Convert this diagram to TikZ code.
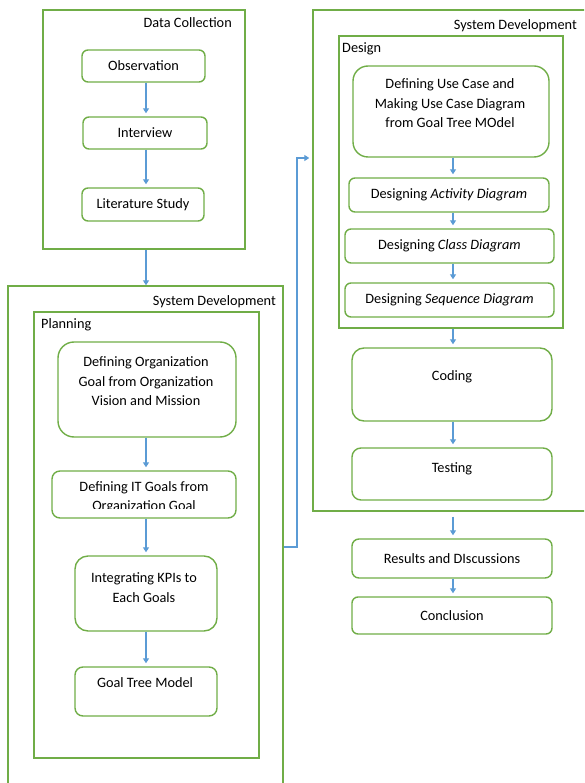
\documentclass[tikz,border=0pt]{standalone}
\usepackage{fontspec}
\setmainfont{Carlito}
\usetikzlibrary{arrows.meta, positioning, calc}
\definecolor{wordgreen}{HTML}{70AD47}
\definecolor{wordblue}{HTML}{5B9BD5}

\begin{document}
\begin{tikzpicture}[x=1pt, y=-1pt,
    every node/.style={font=\fontsize{14.3}{19.5}\selectfont, inner sep=0},
    frame/.style={draw=wordgreen, line width=1.4pt},
    box/.style={draw=wordgreen, line width=1.4pt, rounded corners=6},
    txt/.style={align=center},
    flow/.style={draw=wordblue, line width=1.3pt, -{Triangle[width=6pt,length=5pt]}, shorten >=3pt}]
    \useasboundingbox (0,0) rectangle (584,783);
    \clip (0,0) rectangle (584,783);

    % Data collection
    \node[frame, minimum width=202, minimum height=239] (dc) at (144,129.5) {};
    \node[anchor=east] (dc-l) at (232,23) {Data Collection};
    \node[box, minimum width=123, minimum height=32] (obs) at (143.5,66) {Observation};
    \node[box, minimum width=124, minimum height=32] (intv) at (145,133) {Interview};
    \node[box, minimum width=122, minimum height=33] (lit) at (143,204.5) {Literature Study};

    % System development (planning)
    \node[frame, minimum width=275, minimum height=514] (lsys) at (145.5,543) {};
    \node[anchor=east] (lsys-l) at (276,302) {System Development};
    \node[frame, minimum width=225, minimum height=446] (plan) at (146.5,535) {};
    \node[anchor=west] (plan-l) at (41,325) {Planning};
    \node[box, rounded corners=16, minimum width=178, minimum height=95] (org) at (147,389.5) {};
    \node[txt] (org-t) at (146,381.5) {Defining Organization\\Goal from Organization\\Vision and Mission};
    \node[box, rounded corners=8, minimum width=184, minimum height=47] (itg) at (144,494.5) {};
    \begin{scope}
        \clip (52,471) rectangle (236,508);
        \node[txt] (itg-t) at (144,497.5) {Defining IT Goals from\\Organization Goal};
    \end{scope}
    \node[box, rounded corners=13, minimum width=142, minimum height=75] (kpi) at (146,593.5) {};
    \node[txt] (kpi-t) at (144,587.5) {Integrating KPIs to\\Each Goals};
    \node[box, rounded corners=8, minimum width=142, minimum height=49] (gtm) at (146,691.5) {};
    \node (gtm-t) at (145,683) {Goal Tree Model};

    % System development (design)
    \node[frame, minimum width=287, minimum height=501] (rsys) at (456.5,260.5) {};
    \node[anchor=east] (rsys-l) at (577,26) {System Development};
    \node[frame, minimum width=224, minimum height=292] (design) at (451,182) {};
    \node[anchor=west] (design-l) at (342,49) {Design};
    \node[box, rounded corners=15, minimum width=196, minimum height=91] (uc) at (451,111.5) {};
    \node[txt] (uc-t) at (450,103.5) {Defining Use Case and\\Making Use Case Diagram\\from Goal Tree MOdel};
    \node[box, minimum width=200, minimum height=34] (act) at (449,195) {Designing \textit{Activity Diagram}};
    \node[box, minimum width=209, minimum height=34] (cls) at (449.5,246) {Designing \textit{Class Diagram}};
    \node[box, minimum width=209, minimum height=34] (seq) at (449.5,300) {Designing \textit{Sequence Diagram}};
    \node[box, rounded corners=12, minimum width=200, minimum height=73] (cod) at (452,384.5) {};
    \node (cod-t) at (452,377) {Coding};
    \node[box, rounded corners=9, minimum width=200, minimum height=52] (tst) at (452,474) {};
    \node (tst-t) at (452,469) {Testing};
    \node[box, rounded corners=7, minimum width=200, minimum height=39] (res) at (452,558.5) {Results and DIscussions};
    \node[box, minimum width=200, minimum height=37] (con) at (452,615.5) {Conclusion};

    % Arrows
    \coordinate (colL) at (146,0);
    \coordinate (colR) at (453,0);
    \draw[flow] (obs.south -| colL) -- (intv.north -| colL);
    \draw[flow] (intv.south -| colL) -- (lit.north -| colL);
    \draw[flow, shorten >=0pt] (dc.south -| colL) -- (lsys.north -| colL);
    \draw[flow] (org.south -| colL) -- (itg.north -| colL);
    \draw[flow] (itg.south -| colL) -- (kpi.north -| colL);
    \draw[flow] (kpi.south -| colL) -- (gtm.north -| colL);
    \draw[flow] (uc.south -| colR) -- (act.north -| colR);
    \draw[flow] (act.south -| colR) -- (cls.north -| colR);
    \draw[flow] (cls.south -| colR) -- (seq.north -| colR);
    \draw[flow] (design.south -| colR) -- (cod.north -| colR);
    \draw[flow] (cod.south -| colR) -- (tst.north -| colR);
    \draw[flow, shorten <=5pt] (rsys.south -| colR) -- (res.north -| colR);
    \draw[flow] (res.south -| colR) -- (con.north -| colR);

    % Planning to design
    \coordinate (bend) at (297,547);
    \coordinate (up) at (297,158);
    \draw[flow] (lsys.east |- bend) -- (bend) -- (up) -- (rsys.west |- up);
\end{tikzpicture}
\end{document}
